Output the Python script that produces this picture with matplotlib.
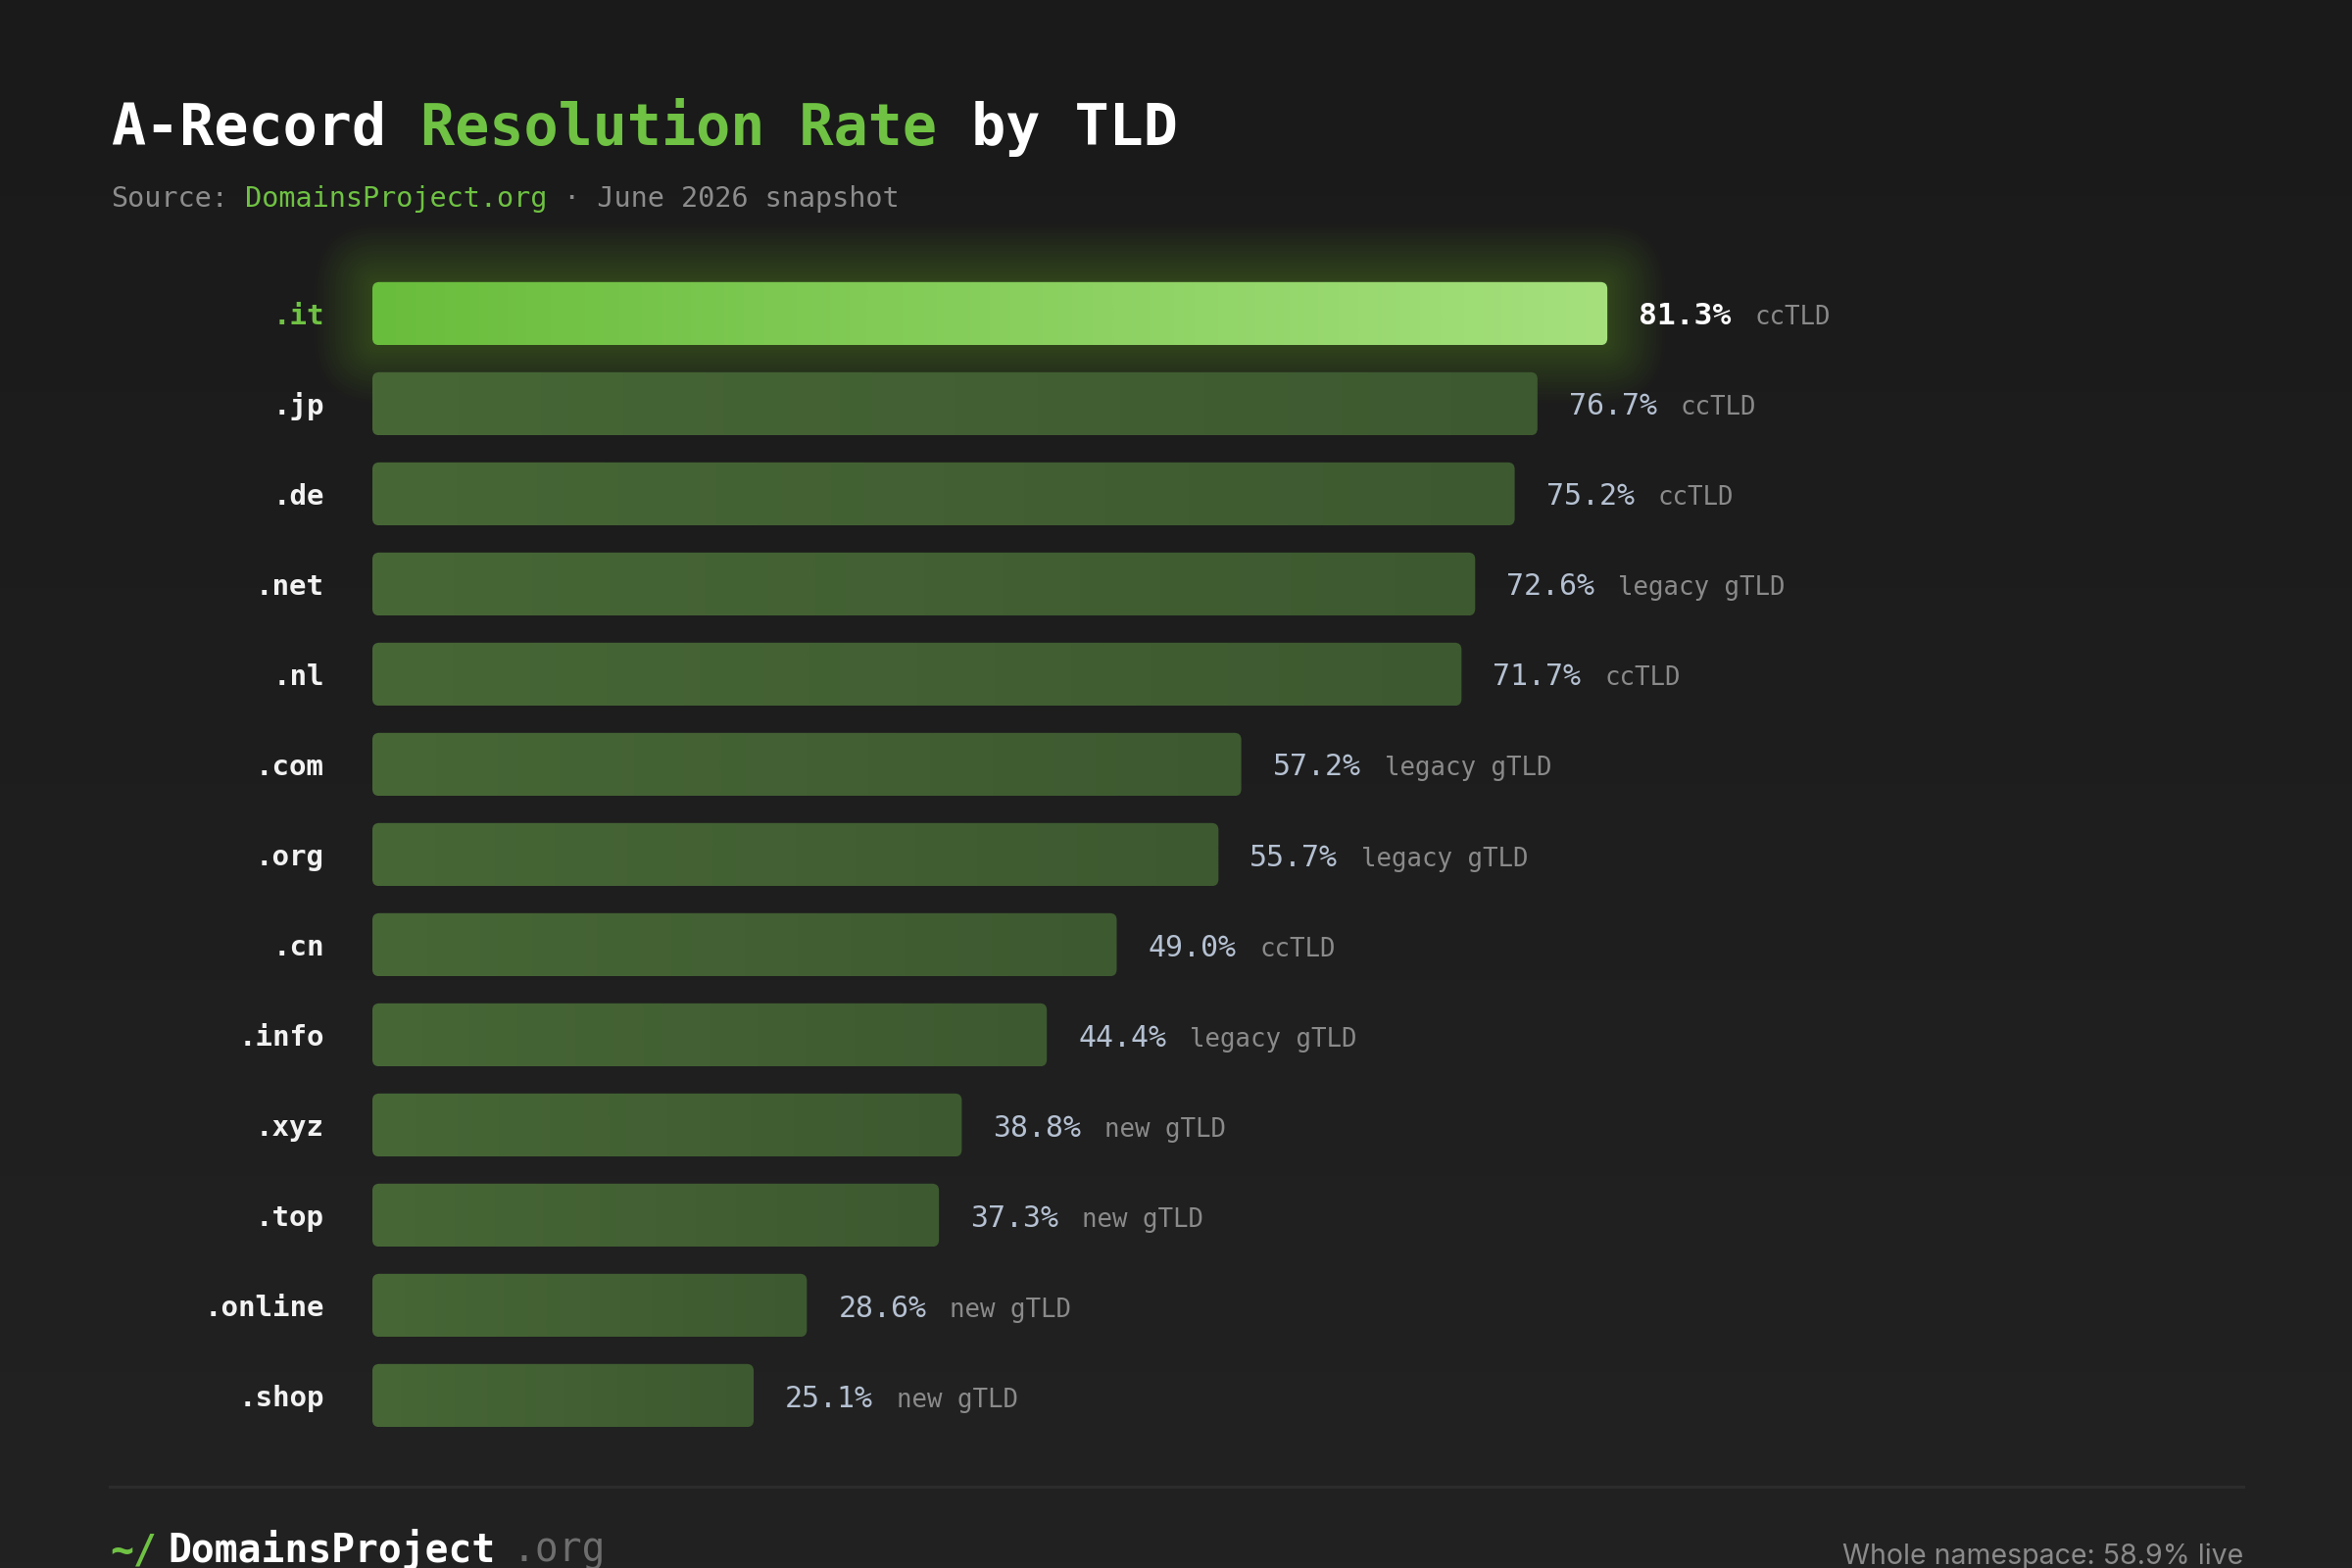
import numpy as np
import matplotlib
matplotlib.use("Agg")
import matplotlib.pyplot as plt
from matplotlib.patches import FancyBboxPatch
from matplotlib.colors import LinearSegmentedColormap
from matplotlib.lines import Line2D

# --- data ---
tlds = ['.it', '.jp', '.de', '.net', '.nl', '.com', '.org', '.cn', '.info',
        '.xyz', '.top', '.online', '.shop']
rates = [81.3, 76.7, 75.2, 72.6, 71.7, 57.2, 55.7, 49.0, 44.4, 38.8, 37.3, 28.6, 25.1]
kinds = ['ccTLD', 'ccTLD', 'ccTLD', 'legacy gTLD', 'ccTLD', 'legacy gTLD',
         'legacy gTLD', 'ccTLD', 'legacy gTLD', 'new gTLD', 'new gTLD',
         'new gTLD', 'new gTLD']
whole_namespace = 58.9

MONO = 'DejaVu Sans Mono'
GREEN = '#6fc243'
W, H = 2400, 1600

fig = plt.figure(figsize=(24, 16), dpi=100)

# background gradient
bg = fig.add_axes([0, 0, 1, 1], zorder=-10)
bg_cmap = LinearSegmentedColormap.from_list('bg', ['#1a1a1a', '#222222'])
bg.imshow(np.linspace(0, 1, 256).reshape(-1, 1), aspect='auto', cmap=bg_cmap,
          extent=[0, 1, 0, 1], origin='upper')
bg.set_xlim(0, 1)
bg.set_ylim(0, 1)
bg.set_axis_off()


def chain(prev, text, gap_px=0, **kw):
    """place a text right after another text, sharing its baseline"""
    return bg.annotate(text, xy=(1, 0), xycoords=prev, xytext=(gap_px * 0.72, 0),
                       textcoords='offset points', ha='left', va='bottom', **kw)


# main bar axes, positioned in pixels
x0, x1 = 380, 1930
row = 92
top = 320 - row / 2
n = len(tlds)
ax = fig.add_axes([x0 / W, 1 - (top + n * row) / H, (x1 - x0) / W, n * row / H])
ax.set_xlim(0, 100)
ax.set_ylim(n - 0.5, -0.5)
ax.set_axis_off()

px_x = (x1 - x0) / 100.0   # pixels per x unit
px_y = row                  # pixels per y unit
aspect = px_x / px_y
radius = 7 / px_x
bar_h = 0.70
dy = -3 * 0.72              # nudge labels down a little

dark_cmap = LinearSegmentedColormap.from_list('dark', ['#476736', '#3d5930'])
hi_cmap = LinearSegmentedColormap.from_list('hi', ['#69bd3c', '#a5e07d'])
ramp = np.linspace(0, 1, 512).reshape(1, -1)

for i, (t, v, k) in enumerate(zip(tlds, rates, kinds)):
    hi = i == 0
    y0 = i - bar_h / 2
    if hi:
        # soft glow around the leading bar
        for j in range(20):
            pad = (2 + j * 3.0) / px_x
            glow = FancyBboxPatch((0, y0), v, bar_h,
                                  boxstyle=f"round,pad={pad},rounding_size={radius + pad}",
                                  mutation_aspect=aspect, facecolor='#6fc243',
                                  edgecolor='none', alpha=0.014, zorder=1,
                                  clip_on=False)
            ax.add_patch(glow)
    patch = FancyBboxPatch((0, y0), v, bar_h,
                           boxstyle=f"round,pad=0,rounding_size={radius}",
                           mutation_aspect=aspect, facecolor='none',
                           edgecolor='none', zorder=2)
    ax.add_patch(patch)
    im = ax.imshow(ramp, aspect='auto', cmap=hi_cmap if hi else dark_cmap,
                   extent=[0, v, y0 + bar_h, y0], zorder=2, interpolation='bilinear')
    im.set_clip_path(patch)

    # tld label
    ax.annotate(t, xy=(0, i), xytext=(-49 * 0.72, dy), textcoords='offset points',
                ha='right', va='center', fontsize=21, fontweight='bold',
                family=MONO, color=GREEN if hi else '#f2f2f2', annotation_clip=False)
    # value label
    vt = ax.annotate(f"{v:.1f}%", xy=(v, i), xytext=(32 * 0.72, dy),
                     textcoords='offset points', ha='left', va='center',
                     fontsize=22.5 if hi else 21.5,
                     fontweight='bold' if hi else 'normal', family=MONO,
                     color='#ffffff' if hi else '#b5c1d2', annotation_clip=False)
    ax.annotate(k, xy=(1, 0), xycoords=vt, xytext=(24 * 0.72, 0),
                textcoords='offset points', ha='left', va='bottom',
                fontsize=18.5, family=MONO, color='#8a8a8a')

# title, built from coloured pieces
t1 = bg.text(113 / W, 1 - 148 / H, "A-Record", fontsize=42, fontweight='bold',
             family=MONO, color='#ffffff', va='baseline', ha='left')
t2 = chain(t1, " Resolution Rate", fontsize=42, fontweight='bold',
           family=MONO, color=GREEN)
t3 = chain(t2, " by TLD", fontsize=42, fontweight='bold',
           family=MONO, color='#ffffff')

s1 = bg.text(113 / W, 1 - 211 / H, "Source:", fontsize=20.5, family=MONO,
             color='#8c8c8c', va='baseline', ha='left')
s2 = chain(s1, " DomainsProject.org", fontsize=20.5, family=MONO, color=GREEN)
s3 = chain(s2, " · June 2026 snapshot", fontsize=20.5, family=MONO,
           color='#8c8c8c')

# divider
bg.add_line(Line2D([112 / W, 2289 / W], [1 - 1517 / H] * 2,
                   color='#2c2c2c', linewidth=2.2))

# footer
f1 = bg.text(112 / W, 6 / H, "~/", fontsize=28.5, fontweight='bold',
             family=MONO, color=GREEN, va='baseline', ha='left')
f2 = chain(f1, "DomainsProject", 12, fontsize=28.5, fontweight='bold',
           family=MONO, color='#ffffff')
f3 = chain(f2, ".org", 16, fontsize=28.5, family=MONO, color='#6e6e6e')

bg.text(2289 / W, 4 / H, f"Whole namespace: {whole_namespace}% live",
        fontsize=20.5, family='Inter', color='#8a8a8a', va='baseline', ha='right')

fig.savefig('out.png', dpi=100, facecolor='#1e1e1e')
